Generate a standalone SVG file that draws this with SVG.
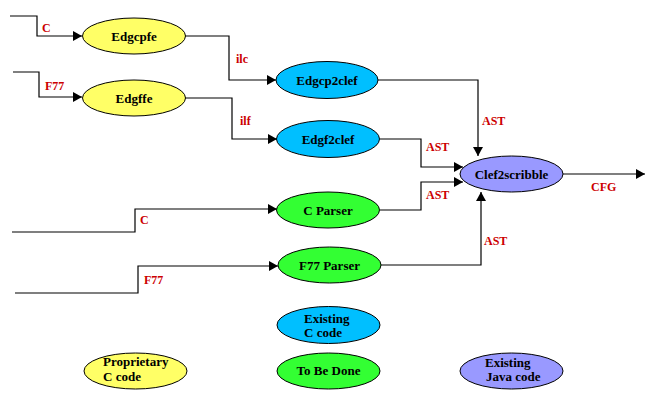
<svg xmlns="http://www.w3.org/2000/svg" width="653" height="411" viewBox="0 0 653 411">
<style>
.n{stroke:#000;stroke-width:1}
.y{fill:#FFFF66}.b{fill:#00BFFF}.g{fill:#33FF33}.p{fill:#9999FF}
text{font-family:'Liberation Serif','Times New Roman','DejaVu Serif',serif;font-weight:bold}
.t{font-size:13px;fill:#000;text-anchor:middle}
.lt{font-size:13px;fill:#000}
.lb{font-size:12px;fill:#CC0000}
.c{fill:none;stroke:#000;stroke-width:1.2}
</style>
<defs>
<marker id="ah" markerWidth="10" markerHeight="10" refX="9" refY="5" orient="auto" markerUnits="userSpaceOnUse">
<path d="M0,0 L9,5 L0,10 Z" fill="#000"/>
</marker>
</defs>
<rect width="653" height="411" fill="#fff"/>
<g id="connectors">
<polyline class="c" points="10,16 37,16 37,36 82,36" marker-end="url(#ah)"/>
<polyline class="c" points="13,72 39,72 39,97 82,97" marker-end="url(#ah)"/>
<polyline class="c" points="185,36 229,36 229,80 276,80" marker-end="url(#ah)"/>
<polyline class="c" points="185,98 232,98 232,139 277,139" marker-end="url(#ah)"/>
<polyline class="c" points="378,80 478,80 478,156" marker-end="url(#ah)"/>
<polyline class="c" points="380,139 421,139 421,167 463,167" marker-end="url(#ah)"/>
<polyline class="c" points="380,210 421,210 421,182 463,182" marker-end="url(#ah)"/>
<polyline class="c" points="381,265 481,265 481,192" marker-end="url(#ah)"/>
<polyline class="c" points="563,174 645,174" marker-end="url(#ah)"/>
<polyline class="c" points="12,232 135,232 135,209 277,209" marker-end="url(#ah)"/>
<polyline class="c" points="15,293 138,293 138,266 278,266" marker-end="url(#ah)"/>
<text class="lb" x="42" y="32">C</text>
<text class="lb" x="45" y="90">F77</text>
<text class="lb" x="236" y="63">ilc</text>
<text class="lb" x="240" y="125">ilf</text>
<text class="lb" x="482" y="125">AST</text>
<text class="lb" x="426" y="151">AST</text>
<text class="lb" x="426" y="199">AST</text>
<text class="lb" x="484" y="245">AST</text>
<text class="lb" x="591" y="191">CFG</text>
<text class="lb" x="140" y="224">C</text>
<text class="lb" x="144" y="284">F77</text>
</g>
<g id="edgcpfe"><ellipse class="n y" cx="134" cy="36" rx="51.5" ry="18"/><text class="t" x="134" y="41">Edgcpfe</text></g>
<g id="edgffe"><ellipse class="n y" cx="134" cy="98" rx="51.5" ry="18"/><text class="t" x="134" y="103">Edgffe</text></g>
<g id="edgcp2clef"><ellipse class="n b" cx="327" cy="80" rx="51" ry="18.5"/><text class="t" x="327" y="85">Edgcp2clef</text></g>
<g id="edgf2clef"><ellipse class="n b" cx="328" cy="139" rx="51.5" ry="18.5"/><text class="t" x="328" y="144">Edgf2clef</text></g>
<g id="cparser"><ellipse class="n g" cx="328" cy="210" rx="51.5" ry="18"/><text class="t" x="328" y="215">C Parser</text></g>
<g id="f77parser"><ellipse class="n g" cx="329.5" cy="265" rx="51.5" ry="18"/><text class="t" x="329.5" y="270">F77 Parser</text></g>
<g id="clef2scribble"><ellipse class="n p" cx="511.5" cy="174" rx="51.5" ry="18"/><text class="t" x="511.5" y="179">Clef2scribble</text></g>
<g id="legend-existing-c"><ellipse class="n b" cx="328.5" cy="325" rx="51.5" ry="18.5"/><text class="lt" x="304" y="323">Existing</text><text class="lt" x="304" y="337">C code</text></g>
<g id="legend-proprietary"><ellipse class="n y" cx="135.5" cy="371" rx="51.5" ry="18"/><text class="lt" x="103" y="366">Proprietary</text><text class="lt" x="103" y="381">C code</text></g>
<g id="legend-todo"><ellipse class="n g" cx="328.5" cy="371" rx="51.5" ry="18"/><text class="t" x="328.5" y="375">To Be Done</text></g>
<g id="legend-java"><ellipse class="n p" cx="511.5" cy="371" rx="51.5" ry="18"/><text class="lt" x="485" y="367">Existing</text><text class="lt" x="486" y="381">Java code</text></g>
</svg>
